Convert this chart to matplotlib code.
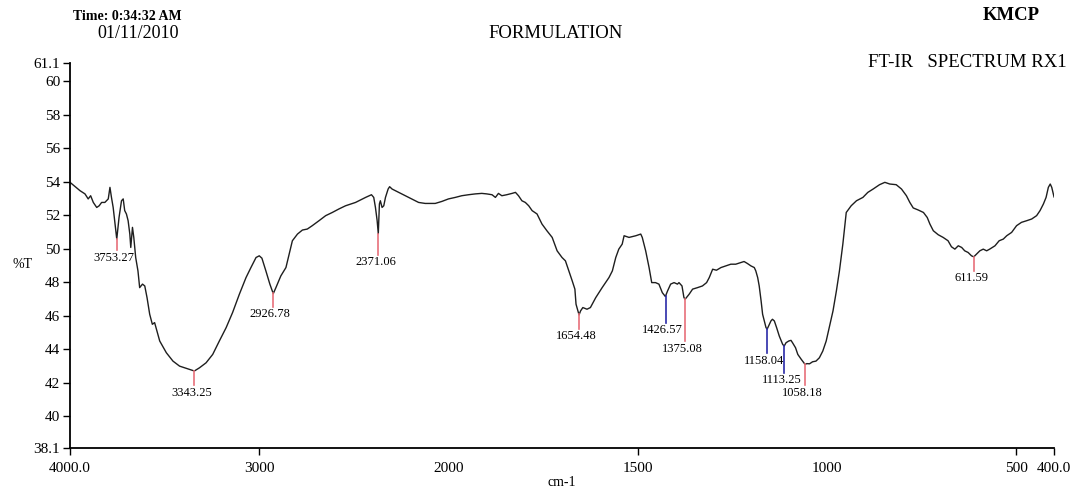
import numpy as np
import matplotlib
matplotlib.use("Agg")
import matplotlib.pyplot as plt

# spectrum (cm-1, %T)
wavenumber = [
    4000, 3947, 3921, 3904, 3891, 3877, 3859, 3846, 3833, 3816, 3798, 3789, 3781, 3772,
    3753, 3741, 3728, 3719, 3711, 3702, 3693, 3684, 3679, 3670, 3663, 3653, 3641, 3632,
    3617, 3605, 3593, 3579, 3565, 3553, 3541, 3526, 3491, 3456, 3421, 3386, 3343, 3316,
    3281, 3246, 3211, 3175, 3141, 3105, 3070, 3044, 3017, 3000, 2986, 2965, 2944, 2926,
    2912, 2886, 2859, 2842, 2825, 2798, 2772, 2746, 2720, 2684, 2649, 2614, 2579, 2544,
    2491, 2438, 2407, 2395, 2386, 2377, 2371, 2365, 2360, 2351, 2342, 2333, 2319, 2311,
    2298, 2263, 2211, 2158, 2123, 2070, 2035, 2000, 1982, 1965, 1947, 1929, 1912, 1899,
    1885, 1876, 1868, 1859, 1846, 1832, 1823, 1815, 1806, 1797, 1788, 1779, 1766, 1753,
    1740, 1726, 1713, 1700, 1691, 1682, 1673, 1666, 1663, 1655, 1651, 1645, 1634, 1625,
    1611, 1594, 1576, 1567, 1558, 1550, 1541, 1536, 1523, 1505, 1492, 1488, 1479, 1470,
    1463, 1453, 1444, 1435, 1427, 1421, 1413, 1404, 1395, 1391, 1383, 1378, 1375, 1364,
    1355, 1342, 1329, 1318, 1311, 1302, 1292, 1280, 1267, 1254, 1241, 1227, 1219, 1210,
    1201, 1192, 1188, 1183, 1179, 1174, 1170, 1161, 1158, 1148, 1144, 1139, 1133, 1126,
    1117, 1113, 1108, 1101, 1095, 1091, 1083, 1077, 1068, 1058, 1053, 1046, 1038, 1029,
    1020, 1011, 1002, 994, 984, 975, 967, 958, 949, 936, 922, 905, 892, 878,
    861, 847, 834, 817, 803, 790, 781, 772, 759, 745, 735, 728, 719, 706,
    693, 680, 671, 662, 653, 644, 636, 627, 618, 612, 605, 596, 587, 578,
    570, 556, 545, 534, 525, 512, 499, 486, 472, 459, 446, 437, 428, 421,
    415, 410, 406, 400,
]
transmittance = [
    53.97, 53.47, 53.28, 52.98, 53.17, 52.77, 52.47, 52.57, 52.77, 52.77, 52.98, 53.67, 53.07, 52.47,
    50.58, 51.87, 52.87, 52.98, 52.28, 52.08, 51.68, 50.88, 50.08, 51.28, 50.68, 49.48, 48.68, 47.68,
    47.89, 47.78, 47.08, 46.09, 45.49, 45.59, 45.09, 44.49, 43.79, 43.29, 42.99, 42.86, 42.70, 42.89,
    43.19, 43.69, 44.49, 45.29, 46.19, 47.29, 48.28, 48.88, 49.48, 49.58, 49.44, 48.68, 47.89, 47.32,
    47.68, 48.38, 48.88, 49.68, 50.48, 50.88, 51.12, 51.18, 51.38, 51.68, 51.98, 52.17, 52.38, 52.57,
    52.77, 53.07, 53.23, 53.07, 52.47, 51.68, 50.90, 52.68, 52.87, 52.47, 52.57, 53.07, 53.57, 53.71,
    53.57, 53.37, 53.07, 52.77, 52.71, 52.71, 52.83, 52.98, 53.07, 53.17, 53.23, 53.28, 53.31, 53.28,
    53.23, 53.07, 53.31, 53.17, 53.23, 53.31, 53.37, 53.17, 52.87, 52.77, 52.57, 52.28, 52.08, 51.48,
    51.08, 50.68, 49.88, 49.48, 49.28, 48.68, 48.08, 47.59, 46.69, 46.05, 46.29, 46.49, 46.39, 46.49,
    47.08, 47.68, 48.28, 48.68, 49.48, 49.98, 50.28, 50.78, 50.68, 50.78, 50.88, 50.68, 49.88, 48.88,
    47.98, 47.98, 47.89, 47.38, 47.15, 47.49, 47.89, 47.98, 47.89, 47.98, 47.78, 47.10, 46.98, 47.29,
    47.59, 47.68, 47.78, 47.98, 48.28, 48.78, 48.72, 48.88, 48.98, 49.08, 49.08, 49.18, 49.24, 49.12,
    48.98, 48.88, 48.68, 48.28, 47.78, 46.89, 46.09, 45.29, 45.20, 45.69, 45.79, 45.69, 45.29, 44.79,
    44.29, 44.19, 44.39, 44.49, 44.53, 44.39, 44.09, 43.69, 43.40, 43.10, 43.14, 43.13, 43.25, 43.29,
    43.49, 43.89, 44.49, 45.29, 46.29, 47.49, 48.68, 50.28, 52.17, 52.57, 52.87, 53.07, 53.37, 53.57,
    53.83, 53.97, 53.87, 53.83, 53.57, 53.17, 52.77, 52.44, 52.32, 52.17, 51.87, 51.48, 51.08, 50.84,
    50.68, 50.48, 50.12, 49.98, 50.18, 50.08, 49.88, 49.78, 49.58, 49.52, 49.68, 49.88, 49.98, 49.88,
    49.98, 50.18, 50.48, 50.58, 50.78, 50.98, 51.38, 51.58, 51.68, 51.78, 51.98, 52.28, 52.68, 53.07,
    53.67, 53.87, 53.67, 53.10,
]

# picked peaks
peak_wn = [3753.27, 3343.25, 2926.78, 2371.06, 1654.48, 1426.57, 1375.08, 1158.04, 1113.25, 1058.18, 611.59]
peak_labels = ["3753.27", "3343.25", "2926.78", "2371.06", "1654.48", "1426.57",
               "1375.08", "1158.04", "1113.25", "1058.18", "611.59"]
peak_kind = ["r", "r", "r", "r", "r", "b", "r", "b", "b", "r", "r"]

x_ticks = [4000, 3000, 2000, 1500, 1000, 500, 400]
x_ticklabels = ["4000.0", "3000", "2000", "1500", "1000", "500", "400.0"]
y_ticks = [38.1, 40, 42, 44, 46, 48, 50, 52, 54, 56, 58, 60, 61.1]
y_ticklabels = ["38.1", "40", "42", "44", "46", "48", "50", "52", "54", "56", "58", "60", "61.1"]

# marker drop below curve (%T) and colours
drops = [0.7, 0.85, 0.8, 1.26, 0.85, 1.6, 2.5, 1.45, 1.6, 1.25, 0.85]
colors = {"r": "#e8707a", "b": "#2a2aa8"}


def fwd(w):
    w = np.asarray(w, dtype=float)
    return np.where(w >= 2000, w, 2 * w - 2000)


def inv(u):
    u = np.asarray(u, dtype=float)
    return np.where(u >= 2000, u, (u + 2000) / 2)


def main() -> None:
    plt.rcParams["font.family"] = ["Liberation Serif", "DejaVu Serif"]

    fig = plt.figure(figsize=(10.74, 4.91), dpi=100)
    ax = fig.add_axes([0.0652, 0.0876, 0.9162, 0.7841])

    ax.set_xscale("function", functions=(fwd, inv))
    wn = np.array(wavenumber, dtype=float)
    tt = np.array(transmittance, dtype=float)
    ax.plot(wn, tt, color="#1e1e1e", lw=1.0)

    for p, lab, k, d in zip(peak_wn, peak_labels, peak_kind, drops):
        y0 = float(np.interp(p, wn[::-1], tt[::-1]))
        ax.plot([p, p], [y0, y0 - d], color=colors[k], lw=1.2)
        ax.annotate(lab, xy=(p, y0 - d), xytext=(-2, -1), textcoords="offset points",
                    ha="center", va="top", fontsize=9)

    ax.set_xlim(4000, 400)
    ax.set_ylim(38.1, 61.1)
    ax.set_xticks(x_ticks, x_ticklabels, fontsize=11)
    ax.set_yticks(y_ticks, y_ticklabels, fontsize=11)
    ax.tick_params(axis="x", direction="out", length=5, width=1, pad=5)
    ax.tick_params(axis="y", direction="out", length=5, width=1, pad=2)
    for i in (2, 4):
        ax.xaxis.get_major_ticks()[i].tick1line.set_visible(False)

    for s in ("top", "right"):
        ax.spines[s].set_visible(False)
    for s in ("left", "bottom"):
        ax.spines[s].set_linewidth(1.3)

    fig.text(0.1183, 0.9664, "Time: 0:34:32 AM", ha="center", va="center",
             fontsize=10, fontweight="bold")
    fig.text(0.1285, 0.9318, "01/11/2010", ha="center", va="center", fontsize=13)
    fig.text(0.5177, 0.9318, "FORMULATION", ha="center", va="center", fontsize=13.5)
    fig.text(0.9413, 0.9684, "KMCP", ha="center", va="center", fontsize=13.5,
             fontweight="bold")
    fig.text(0.9935, 0.8727, "FT-IR   SPECTRUM RX1", ha="right", va="center",
             fontsize=13.5)
    fig.text(0.0214, 0.4603, "%T", ha="center", va="center", fontsize=10)
    fig.text(0.5233, 0.0163, "cm-1", ha="center", va="center", fontsize=10)

    fig.savefig("out.png", dpi=100)


if __name__ == "__main__":
    main()
